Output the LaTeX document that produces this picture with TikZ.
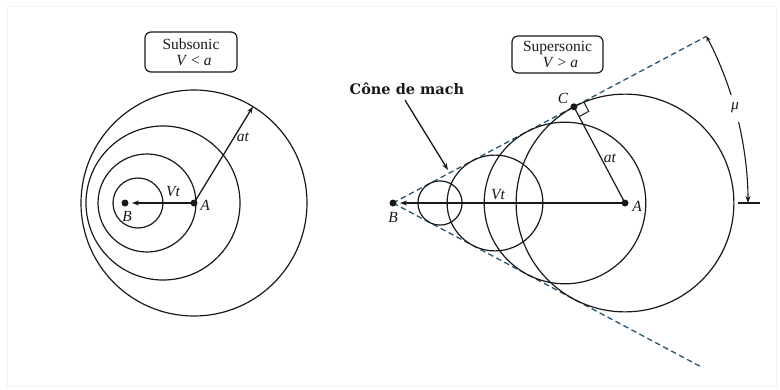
\documentclass[tikz,border=0pt]{standalone}
\usepackage{fontspec}
\setmainfont{Liberation Serif}
\newfontfamily\conefont{DejaVu Serif}
\usetikzlibrary{arrows.meta,calc}
\definecolor{ink}{rgb}{0.1,0.1,0.1}
\definecolor{conecol}{RGB}{40,85,110}
\begin{document}
\begin{tikzpicture}[x=1pt,y=1pt,
  wave/.style={draw=ink,line width=1.2pt},
  cone/.style={draw=conecol,line width=1.3pt,dash pattern=on 5.5pt off 3.5pt},
  vec/.style={draw=ink,line width=1.3pt,-{Stealth[length=7pt,width=5pt]}},
  dot/.style={circle,fill=ink,inner sep=0pt,minimum size=7pt},
  lab/.style={font=\fontsize{15.5}{17}\selectfont\itshape,text=ink,inner sep=1pt},
  titlebox/.style={draw=ink,line width=1.2pt,rounded corners=6pt,align=center,
    font=\fontsize{15.5}{16.5}\selectfont,text=ink,inner sep=0pt}]
\useasboundingbox (0,0) rectangle (780,-389);
\draw[black!5,line width=1pt] (7,-6) rectangle (776,-386);

% ---------- Subsonic ----------
\node[titlebox,minimum width=92pt,minimum height=40pt] (sub) at (191,-52)
  {Subsonic\\\hspace*{6pt}\textit{V} < \textit{a}};
\coordinate (LA) at (194,-203);
\coordinate (LB) at (125,-203);
\coordinate (LBtip) at (132,-203);
\coordinate (Lat) at (252.9,-106.6);
\draw[wave] (LA) circle[radius=113];
\draw[wave] (163,-203) circle[radius=77];
\draw[wave] (147,-203) circle[radius=49];
\draw[wave] (138,-203) circle[radius=25];
\draw[vec] (LA) -- (Lat);
\draw[vec] (LA) -- (LBtip);
\node[dot] (dLA) at (LA) {};
\node[dot] (dLB) at (LB) {};
\node[lab] (lVt) at (173,-192) {Vt};
\node[lab] (lA) at (205,-205) {A};
\node[lab] (lB) at (127,-216) {B};
\node[lab] (lat) at (243,-137) {at};

% ---------- Supersonic ----------
\node[titlebox,minimum width=91pt,minimum height=37pt] (sup) at (557.5,-54.5)
  {Supersonic\\\hspace*{6pt}\textit{V} > \textit{a}};
\coordinate (RA) at (625,-203);
\coordinate (RB) at (393,-203);
\coordinate (RBtip) at (400,-203);
\coordinate (RC) at (573.9,-106.8);
\coordinate (UE) at (706.4,-36.3);
\coordinate (LE) at (702,-367.3);
\draw[cone] (RB) -- (UE);
\draw[cone] (RB) -- (LE);
\draw[wave] (RA) circle[radius=108.9];
\draw[wave] (565,-203) circle[radius=80.8];
\draw[wave] (495,-203) circle[radius=47.9];
\draw[wave] (440,-203) circle[radius=22.1];
\draw[wave] (RA) -- (RC);
\draw[wave,line width=1pt] ($(RC)+(9.71,5.16)$) -- ++(5.16,-9.71) -- ($(RC)+(5.16,-9.71)$);
\draw[vec] (RA) -- (RBtip);
\node[dot] (dRA) at (RA) {};
\node[dot] (dRB) at (RB) {};
\node[dot] (dRC) at (RC) {};
\node[lab] (rVt) at (498,-195) {Vt};
\node[lab] (rat) at (610,-158) {at};
\node[lab] (rA) at (637,-206) {A};
\node[lab] (rB) at (393,-217) {B};
\node[lab] (rC) at (563,-98) {C};

% Mach angle
\draw[draw=ink,line width=1.1pt,{Stealth[length=5pt,width=4.5pt]}-] (UE) arc[start angle=28,end angle=17.7,radius=355];
\draw[draw=ink,line width=1.1pt,-{Stealth[length=7pt,width=5pt]}] ($(RB)+(13.2:355)$) arc[start angle=13.2,end angle=0,radius=355];
\coordinate (tk1) at (738,-203);
\coordinate (tk2) at (760,-203);
\draw[draw=ink,line width=1.3pt] (tk1) -- (tk2);
\node[lab] (mu) at (735,-108) {μ};

% Cone label
\node[font=\conefont\bfseries\fontsize{14.5}{16}\selectfont,text=ink,inner sep=1pt] (cone) at (407,-89) {Cône de mach};
\coordinate (ctip) at (448,-170);
\draw[vec] ($(cone.south)+(-2,-4)$) -- (ctip);
\end{tikzpicture}
\end{document}
